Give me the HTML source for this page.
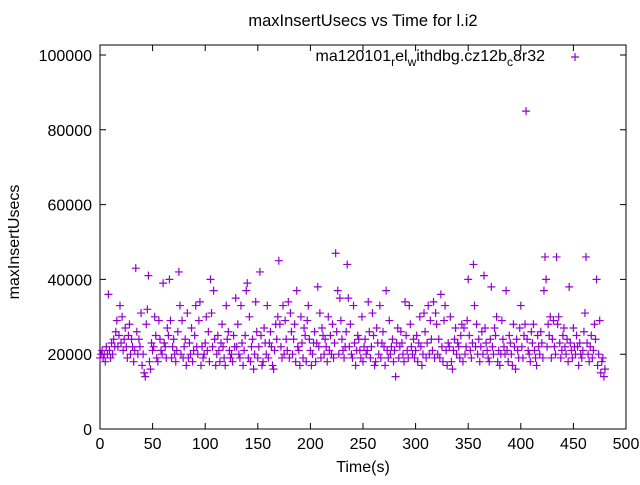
<!DOCTYPE html>
<html><head><meta charset="utf-8"><style>
body{margin:0;background:#fff;}
svg text{font-family:"Liberation Sans",sans-serif;font-size:16px;fill:#000;}
</style></head><body>
<svg id="chart" width="640" height="480" xmlns="http://www.w3.org/2000/svg">
<text x="363" y="26" text-anchor="middle" style="font-size:16.5px">maxInsertUsecs vs Time for l.i2</text>
<text transform="translate(19,242) rotate(-90)" text-anchor="middle">maxInsertUsecs</text>
<text x="363" y="472" text-anchor="middle">Time(s)</text>
<g id="axes"></g>
<g id="points"></g>
<g>
<text x="545" y="61" text-anchor="end">ma120101<tspan dy="5" font-size="12">r</tspan><tspan dy="-5">el</tspan><tspan dy="5" font-size="12">w</tspan><tspan dy="-5">ithdbg.cz12b</tspan><tspan dy="5" font-size="12">c</tspan><tspan dy="-5">8r32</tspan></text>
<path d="M571,57h8M575,53v8" stroke="#9400d3" stroke-width="1.2"/>
</g>
</svg>
<script>
const xTicks=[0,50,100,150,200,250,300,350,400,450,500];
const yTicks=[0,20000,40000,60000,80000,100000];
const startTime=0;
const values=[
19,20,21,19,20,18,22,20,36,21,19,23,20,24,22,26,29,22,25,33,
23,30,21,24,27,22,19,25,28,20,24,22,18,21,43,26,20,24,22,31,
17,20,15,14,28,32,41,18,16,23,21,22,30,25,19,18,29,24,21,20,
39,23,22,19,27,25,40,29,19,22,24,20,18,21,26,42,33,20,29,19,
22,24,17,31,19,23,20,27,18,21,25,33,22,20,29,34,17,22,19,20,
23,30,21,26,18,40,31,22,37,24,17,20,25,21,18,23,28,22,19,17,
33,24,26,21,19,20,18,25,22,35,22,28,20,19,33,23,17,21,25,37,
39,19,30,18,22,24,16,20,34,26,19,22,42,25,17,18,27,23,20,33,
19,23,26,22,17,16,21,28,24,30,45,28,22,19,33,20,29,24,21,34,
19,31,26,20,24,28,18,37,22,21,17,30,23,19,27,25,18,29,33,24,
21,17,20,23,26,18,23,38,22,31,19,27,25,20,24,22,18,30,21,25,
20,28,19,23,47,26,37,20,35,29,24,21,19,22,26,44,35,22,28,20,
19,33,23,17,21,25,24,21,19,30,18,22,24,20,21,34,26,19,22,31,
25,17,18,27,23,20,33,19,23,26,22,17,37,21,19,29,20,22,24,18,
21,14,23,27,19,22,26,23,20,18,34,25,21,19,33,28,22,20,24,19,
21,25,18,23,30,22,17,20,31,26,19,23,33,20,29,24,21,34,19,31,
28,20,24,19,36,22,18,29,33,21,17,23,22,30,18,16,21,24,27,20,
23,22,19,25,28,18,27,20,22,29,40,25,21,19,23,44,33,22,28,20,
24,18,22,26,20,41,27,23,21,19,18,24,38,22,20,27,25,30,18,21,
17,20,29,24,22,20,37,21,18,25,23,20,17,28,22,16,24,21,19,27,
33,22,19,25,28,85,24,21,20,18,26,23,28,21,19,17,25,22,20,26,
23,19,37,46,40,22,28,25,30,19,24,29,22,20,46,28,30,23,19,21,
25,27,22,20,24,18,38,23,21,19,27,22,20,25,22,17,23,20,19,21,
26,31,46,23,20,18,22,25,19,21,28,24,40,17,20,29,15,18,19,14,
16];
const X0=100,X1=626,Y0=429,Y1=55;
const sx=v=>X0+(v-0)/500*(X1-X0);
const sy=v=>Y0-(v-0)/100000*(Y0-Y1);
const ns="http://www.w3.org/2000/svg";
const axes=document.getElementById('axes');
const frame=document.createElementNS(ns,'rect');
frame.setAttribute('x',X0);frame.setAttribute('y',Y1-10);frame.setAttribute('width',X1-X0);frame.setAttribute('height',Y0-Y1+10);
frame.setAttribute('fill','none');frame.setAttribute('stroke','#000');


axes.appendChild(frame);
xTicks.forEach(v=>{
  const x=sx(v);
  const l=document.createElementNS(ns,'path');
  l.setAttribute('d',`M${x},${Y0}v-6M${x},${Y1-10}v6`);l.setAttribute('stroke','#000');
  
  
  axes.appendChild(l);
  const t=document.createElementNS(ns,'text');
  t.setAttribute('x',x);t.setAttribute('y',Y0+20);t.setAttribute('text-anchor','middle');t.textContent=v;
  
  
  axes.appendChild(t);
});
yTicks.forEach(v=>{
  const y=sy(v);
  const l=document.createElementNS(ns,'path');
  l.setAttribute('d',`M${X0},${y}h6M${X1},${y}h-6`);l.setAttribute('stroke','#000');
  
  
  axes.appendChild(l);
  const t=document.createElementNS(ns,'text');
  t.setAttribute('x',X0-8);t.setAttribute('y',y+6);t.setAttribute('text-anchor','end');t.textContent=v;
  
  
  axes.appendChild(t);
});
const pts=document.getElementById('points');
values.forEach((v,i)=>{
  const x=sx(startTime+i),y=sy(v*1000);
  const p=document.createElementNS(ns,'path');
  p.setAttribute('d',`M${x-4},${y}h8M${x},${y-4}v8`);
  p.setAttribute('stroke','#9400d3');p.setAttribute('stroke-width','1.2');
  
  
  pts.appendChild(p);
});
</script>
</body></html>
